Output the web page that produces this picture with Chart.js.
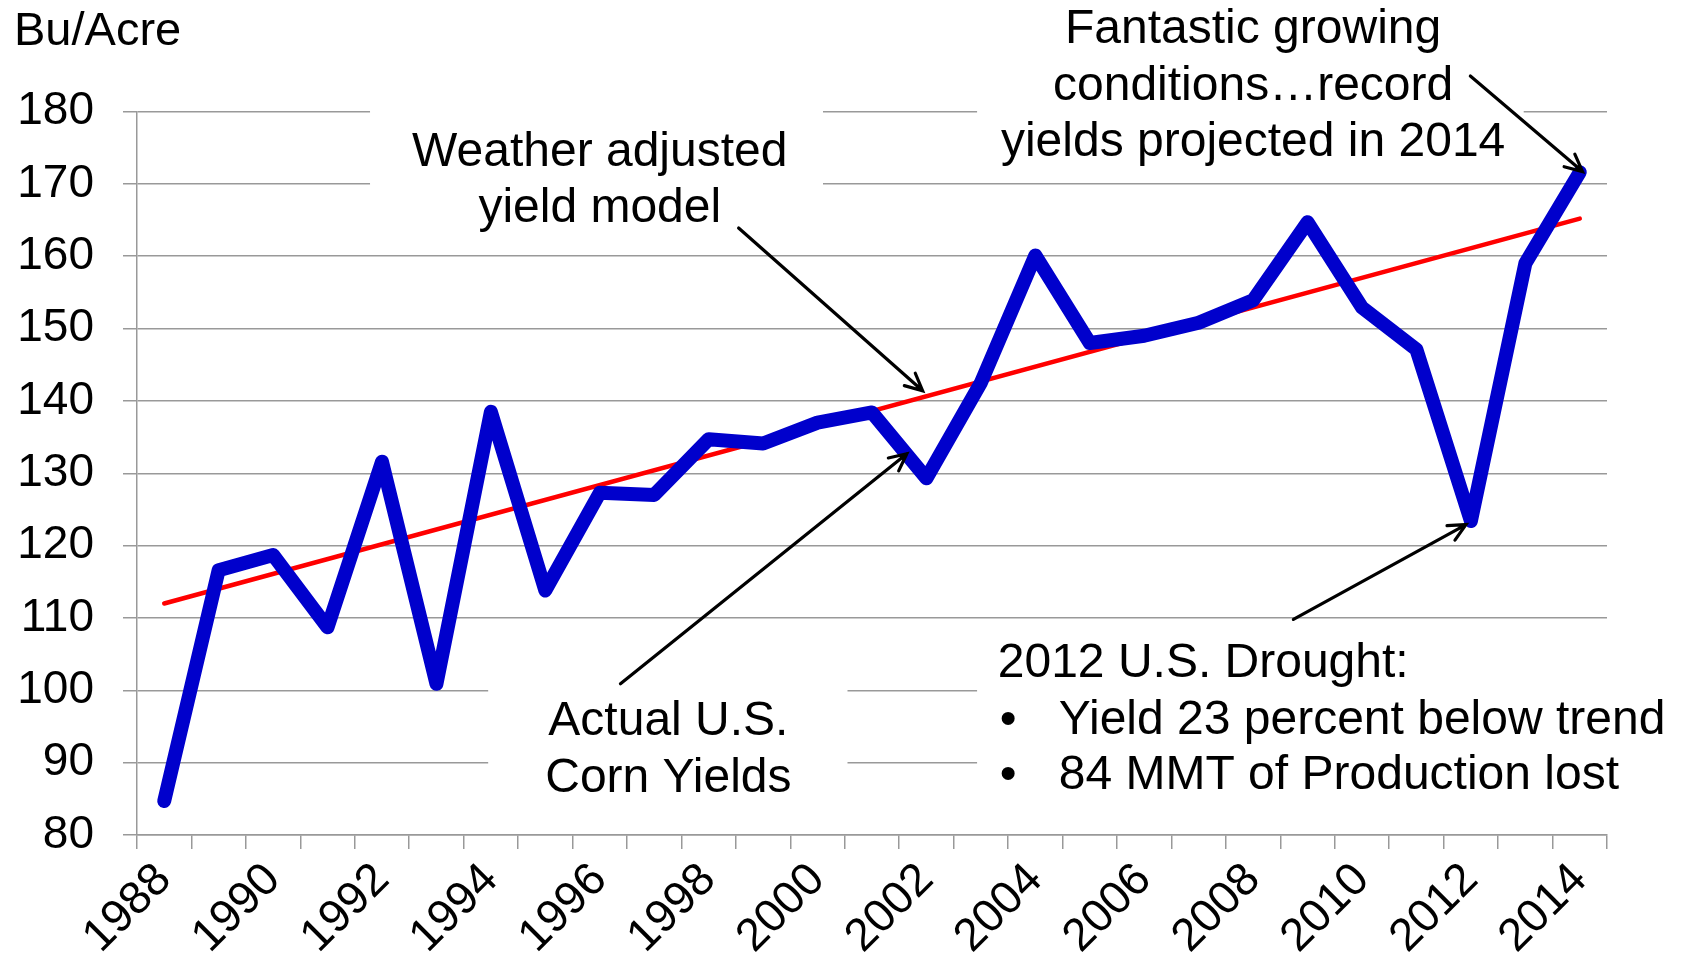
<!DOCTYPE html>
<html>
<head>
<meta charset="utf-8">
<script src="https://cdn.jsdelivr.net/npm/chart.js@4.4.1/dist/chart.umd.min.js"></script>
<style>
  html, body { margin: 0; padding: 0; background: #fff; }
  #wrap { width: 1681px; height: 970px; }
</style>
</head>
<body>
<div id="wrap"><canvas id="cornChart"></canvas></div>
<script>
var years = ['1988','1989','1990','1991','1992','1993','1994','1995','1996','1997','1998','1999','2000',
             '2001','2002','2003','2004','2005','2006','2007','2008','2009','2010','2011','2012','2013','2014'];
var actualYield = [84.7, 116.6, 118.7, 108.7, 131.6, 100.9, 138.5, 113.8, 127.3, 127.0, 134.7, 134.1, 137.0,
                   138.4, 129.3, 142.5, 160.1, 148.0, 149.0, 150.8, 153.9, 164.7, 152.9, 147.1, 123.4, 159.0, 171.6];
// trend model: straight line, only the end points are given
var trendYield = [112.0, null, null, null, null, null, null, null, null, null, null, null, null,
                  null, null, null, null, null, null, null, null, null, null, null, null, null, 165.2];
var yMin = 80, yMax = 180, yStep = 10;

// annotation texts, positions in (category index, bu/acre)
var weatherNote = ['Weather adjusted', 'yield model'];
var recordNote = ['Fantastic growing', 'conditions\u2026record', 'yields projected in 2014'];
var actualNote = ['Actual U.S.', 'Corn Yields'];
var droughtNote = ['2012 U.S. Drought:', 'Yield 23 percent below trend', '84 MMT of Production lost'];

var FONT = "'Liberation Sans', Arial, sans-serif";

var notes = [
  { lines: weatherNote, x: 8.0, y: [172.5, 164.7], align: 'center',
    box: [3.78, 181.6, 12.1, 162.2], arrow: [10.55, 163.9, 13.93, 141.4] },
  { lines: recordNote, x: 20.0, y: [189.5, 181.6, 173.9], align: 'center',
    box: [14.93, 196, 24.97, 171.9], arrow: [23.99, 184.9, 26.05, 171.7] },
  { lines: actualNote, x: 9.26, y: [93.8, 86.0], align: 'center',
    box: [5.95, 105.6, 12.55, 82.8], arrow: [8.38, 100.9, 13.64, 132.7] },
  { lines: droughtNote, x: 15.31, y: [101.8, 94.0, 86.3], align: 'left', bullets: true,
    box: [14.93, 105.6, 28.5, 82.8], arrow: [20.74, 109.8, 23.91, 122.9] }
];

function drawArrow(ctx, x1, y1, x2, y2) {
  var a = Math.atan2(y2 - y1, x2 - x1), len = 19, spread = 0.45;
  ctx.beginPath();
  ctx.moveTo(x1, y1);
  ctx.lineTo(x2, y2);
  ctx.moveTo(x2 - len * Math.cos(a - spread), y2 - len * Math.sin(a - spread));
  ctx.lineTo(x2, y2);
  ctx.lineTo(x2 - len * Math.cos(a + spread), y2 - len * Math.sin(a + spread));
  ctx.stroke();
}

var notesPlugin = {
  id: 'notes',
  beforeDatasetsDraw: function(chart) {
    var ctx = chart.ctx, xs = chart.scales.x, ys = chart.scales.y;
    ctx.save();
    ctx.fillStyle = '#ffffff';
    notes.forEach(function(n) {
      var x1 = xs.getPixelForValue(n.box[0]), y1 = ys.getPixelForValue(n.box[1]);
      var x2 = xs.getPixelForValue(n.box[2]), y2 = ys.getPixelForValue(n.box[3]);
      ctx.fillRect(x1, y1, x2 - x1, y2 - y1);
    });
    ctx.restore();
  },
  afterDatasetsDraw: function(chart) {
    var ctx = chart.ctx, xs = chart.scales.x, ys = chart.scales.y;
    ctx.save();
    ctx.fillStyle = '#000';
    ctx.strokeStyle = '#000';
    ctx.lineWidth = 3.2;
    ctx.lineCap = 'round';
    ctx.textBaseline = 'alphabetic';
    ctx.font = '47px ' + FONT;
    ctx.textAlign = 'left';
    ctx.fillText('Bu/Acre', 14, 45);
    ctx.font = '48px ' + FONT;
    notes.forEach(function(n) {
      var tx = xs.getPixelForValue(n.x);
      n.lines.forEach(function(line, i) {
        var ty = ys.getPixelForValue(n.y[i]);
        if (n.bullets && i > 0) {
          ctx.textAlign = 'left';
          ctx.fillText('\u2022', tx + 2, ty);
          ctx.fillText(line, tx + 61, ty);
        } else {
          ctx.textAlign = n.align;
          ctx.fillText(line, tx, ty);
        }
      });
      drawArrow(ctx, xs.getPixelForValue(n.arrow[0]), ys.getPixelForValue(n.arrow[1]),
                xs.getPixelForValue(n.arrow[2]), ys.getPixelForValue(n.arrow[3]));
    });
    ctx.restore();
  }
};

var cxt = document.getElementById('cornChart');
var lineGraph = new Chart(cxt, {
  type: 'line',
  data: {
    labels: years,
    datasets: [
      {
        label: 'Actual U.S. Corn Yields',
        data: actualYield,
        borderColor: '#0000CC',
        borderWidth: 14,
        borderCapStyle: 'round',
        borderJoinStyle: 'round',
        pointRadius: 0,
        tension: 0,
        fill: false
      },
      {
        label: 'Weather adjusted yield model',
        data: trendYield,
        borderColor: '#FF0000',
        borderWidth: 4.5,
        borderCapStyle: 'round',
        pointRadius: 0,
        spanGaps: true,
        fill: false
      }
    ]
  },
  options: {
    responsive: true,
    maintainAspectRatio: false,
    animation: false,
    events: [],
    layout: { padding: { top: 111.5, right: 74, bottom: 0, left: 0 } },
    plugins: { legend: { display: false }, tooltip: { enabled: false } },
    scales: {
      x: {
        type: 'category',
        offset: true,
        grid: { drawOnChartArea: false, drawTicks: true, tickLength: 14, offset: true, color: '#999', lineWidth: 1.5 },
        border: { color: '#999', width: 1.5 },
        ticks: {
          autoSkip: false,
          maxRotation: 45,
          minRotation: 45,
          padding: 4,
          color: '#000',
          font: { family: FONT, size: 46 },
          callback: function(val) {
            var l = this.getLabelForValue(val);
            return (parseInt(l, 10) % 2 === 0) ? l : '';
          }
        },
        afterFit: function(scale) { scale.height = 135; }
      },
      y: {
        min: yMin,
        max: yMax,
        grid: { color: '#999', lineWidth: 1.5, tickLength: 14 },
        border: { color: '#999', width: 1.5 },
        ticks: { stepSize: yStep, padding: 29, color: '#000', font: { family: FONT, size: 46 } },
        afterFit: function(scale) { scale.width = 137; }
      }
    }
  },
  plugins: [notesPlugin]
});
</script>
</body>
</html>
